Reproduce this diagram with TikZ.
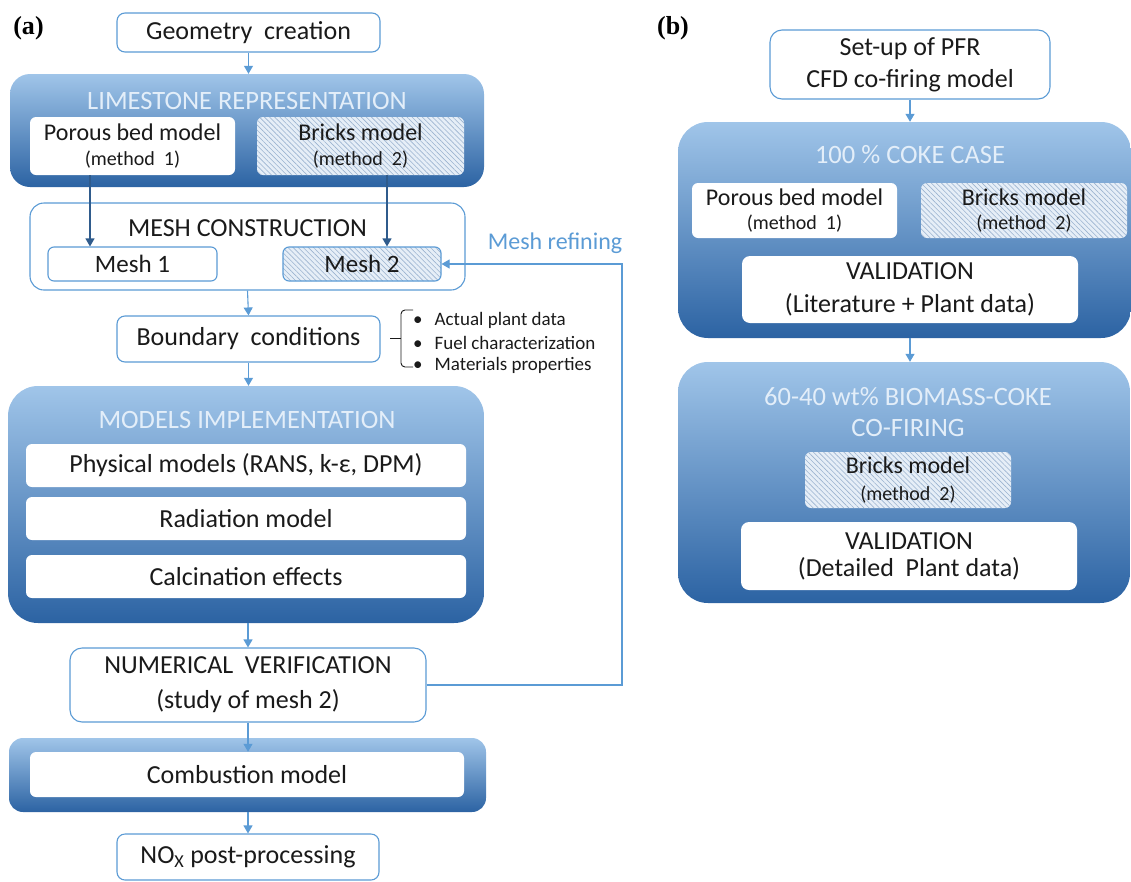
\documentclass[tikz,border=0pt]{standalone}
\usepackage{fontspec}
\setmainfont{Carlito}
\newfontfamily\labfont{Liberation Serif}
\usetikzlibrary{arrows.meta,patterns.meta}
\definecolor{bord}{HTML}{5B9BD5}
\definecolor{ctop}{HTML}{A0C5E9}
\definecolor{cbot}{HTML}{2C63A3}
\definecolor{ttl}{HTML}{E3EEF9}
\definecolor{darr}{HTML}{2F5B8C}
\definecolor{hatchbg}{HTML}{E6EEF7}
\definecolor{hatchln}{HTML}{9BB3D0}
\definecolor{txt}{HTML}{1A1A1A}
\newcommand{\meth}[1]{{\fontsize{20}{20}\selectfont (method~ #1)}}
\begin{document}
\begin{tikzpicture}[x=1pt,y=-1pt,
  fs/.style={font=\fontsize{#1}{28}\selectfont},
  box/.style={draw=bord, line width=1.1pt, fill=white, rounded corners=8pt, inner sep=0pt, align=center, text=txt, fs=26},
  cont/.style={top color=ctop, bottom color=cbot, draw=none, rounded corners=24pt, inner sep=0pt},
  inbox/.style={fill=white, rounded corners=6pt, inner sep=0pt, align=center, text=txt, fs=26},
  hatch/.style={preaction={fill=hatchbg}, pattern={Lines[angle=-45,distance=3.6pt,line width=0.6pt]}, pattern color=hatchln, rounded corners=6pt, inner sep=0pt, align=center, text=txt, fs=24},
  title/.style={text=ttl, fs=26.5, align=center, inner sep=0pt},
  arr/.style={draw=bord, line width=1.1pt, -{Triangle[width=9pt,length=8pt]}},
  darrow/.style={draw=darr, line width=1.1pt, -{Triangle[width=9pt,length=8pt]}},
  bul/.style={anchor=west, text=txt, fs=19, inner sep=0pt},
  panel/.style={font=\labfont\bfseries\fontsize{26}{28}\selectfont, inner sep=0pt}
]
\useasboundingbox (0,0) rectangle (1131,881);

% ---------------- panel (a)
\node[panel] (la) at (28.5,28) {(a)};
\node[box, minimum width=263pt, minimum height=39pt] (geo) at (248.5,32.5) {Geometry~ creation};

\node[cont, minimum width=474pt, minimum height=113pt, rounded corners=20pt] (lime) at (247,130.5) {};
\node[title] (limet) at (247,101) {LIMESTONE REPRESENTATION};
\node[inbox, fs=24, minimum width=205pt, minimum height=58pt] (por1) at (132.5,146) {Porous bed model\\[-3pt]\meth{1}};
\node[hatch, minimum width=207pt, minimum height=58pt] (bri1) at (360.5,146) {Bricks model\\[-3pt]\meth{2}};

\node[box, minimum width=435pt, minimum height=87pt, rounded corners=14pt] (meshc) at (247.5,246.5) {};
\node[text=txt, fs=26, inner sep=0pt] (mesht) at (247.5,228) {MESH CONSTRUCTION};
\node[box, fs=25, minimum width=169pt, minimum height=34pt, rounded corners=6pt] (mesh1) at (132.5,264) {Mesh 1};
\node[hatch, fs=25, draw=bord, line width=1.1pt, minimum width=158pt, minimum height=34pt] (mesh2) at (362,264) {Mesh 2};

\node[box, minimum width=263pt, minimum height=46pt] (bnd) at (248.5,339) {Boundary~ conditions};
\node[bul] (b1) at (413,320) {\textbullet\hspace{12pt}Actual plant data};
\node[bul] (b2) at (413,343) {\textbullet\hspace{12pt}Fuel characterization};
\node[bul] (b3) at (413,365) {\textbullet\hspace{12pt}Materials properties};
\draw[txt, line width=0.9pt, rounded corners=4pt] (413,310) -- (401,310) -- (401,367) -- (413,367);
\draw[txt, line width=0.9pt] (390,338) -- (401,338);

\node[cont, minimum width=476pt, minimum height=237pt, rounded corners=30pt] (models) at (246,504.5) {};
\node[title] (modelst) at (247,420) {MODELS IMPLEMENTATION};
\node[inbox, minimum width=440pt, minimum height=43pt] (phys) at (246,465.5) {Physical models (RANS, k-ε, DPM)};
\node[inbox, minimum width=440pt, minimum height=43pt] (rad) at (246,518.5) {Radiation model};
\node[inbox, minimum width=440pt, minimum height=43pt] (calc) at (246,576.5) {Calcination effects};

\node[box, minimum width=356pt, minimum height=74pt, rounded corners=12pt] (num) at (248,685) {NUMERICAL~ VERIFICATION\\[7pt](study of mesh 2)};

\node[cont, minimum width=477pt, minimum height=74pt, rounded corners=14pt] (comb) at (247.5,775) {};
\node[inbox, minimum width=434pt, minimum height=45pt] (combin) at (247,774.5) {Combustion model};

\node[box, minimum width=262pt, minimum height=46pt] (nox) at (248,857) {NO\textsubscript{X} post-processing};

\node[text=bord, fs=24, inner sep=0pt] (refl) at (555,243) {Mesh refining};

% connectors (a)
\coordinate (ax1) at (90,0);
\coordinate (ax2) at (387,0);
\coordinate (fb) at (622,0);
\draw[arr] (geo.south) -- (geo.south |- lime.north);
\draw[darrow] (por1.south -| ax1) -- (mesh1.north -| ax1);
\draw[darrow] (bri1.south -| ax2) -- (mesh2.north -| ax2);
\draw[arr] (meshc.south) -- (bnd.north);
\draw[arr] (bnd.south) -- (bnd.south |- models.north);
\draw[arr] (num.north |- models.south) -- (num.north);
\draw[arr] (num.south) -- (num.south |- combin.north);
\draw[arr] (nox.north |- comb.south) -- (nox.north);
\draw[arr] (num.east) -| (fb |- mesh2.east) -- (mesh2.east);

% ---------------- panel (b)
\node[panel] (lb) at (673,28) {(b)};
\node[box, minimum width=280pt, minimum height=69pt, rounded corners=12pt] (setup) at (910,64.5) {Set-up of PFR\\[4pt]CFD co-firing model};

\node[cont, minimum width=453pt, minimum height=216pt, rounded corners=30pt] (coke) at (904.5,230) {};
\node[title] (coket) at (910,155) {100 \% COKE CASE};
\node[inbox, fs=24, minimum width=205pt, minimum height=55pt] (por2) at (794.5,210.5) {Porous bed model\\[-4pt]\meth{1}};
\node[hatch, minimum width=206pt, minimum height=55pt] (bri2) at (1024,210.5) {Bricks model\\[-4pt]\meth{2}};
\node[inbox, minimum width=336pt, minimum height=67pt, rounded corners=8pt] (val1) at (910,289.5) {VALIDATION\\[5pt](Literature + Plant data)};

\node[cont, minimum width=452pt, minimum height=241pt, rounded corners=30pt] (co) at (904,482.5) {};
\node[title] (cot) at (908,412) {60-40 wt\% BIOMASS-COKE\\[3pt]CO-FIRING};
\node[hatch, minimum width=206pt, minimum height=56pt] (bri3) at (908,480) {Bricks model\\[-1pt]\meth{2}};
\node[inbox, minimum width=336pt, minimum height=68pt, rounded corners=8pt] (val2) at (909,556) {VALIDATION\\[-1pt](Detailed~ Plant data)};

\draw[arr] (setup.south) -- (setup.south |- coke.north);
\draw[arr] (val1.south |- coke.south) -- (val1.south |- co.north);
\end{tikzpicture}
\end{document}
